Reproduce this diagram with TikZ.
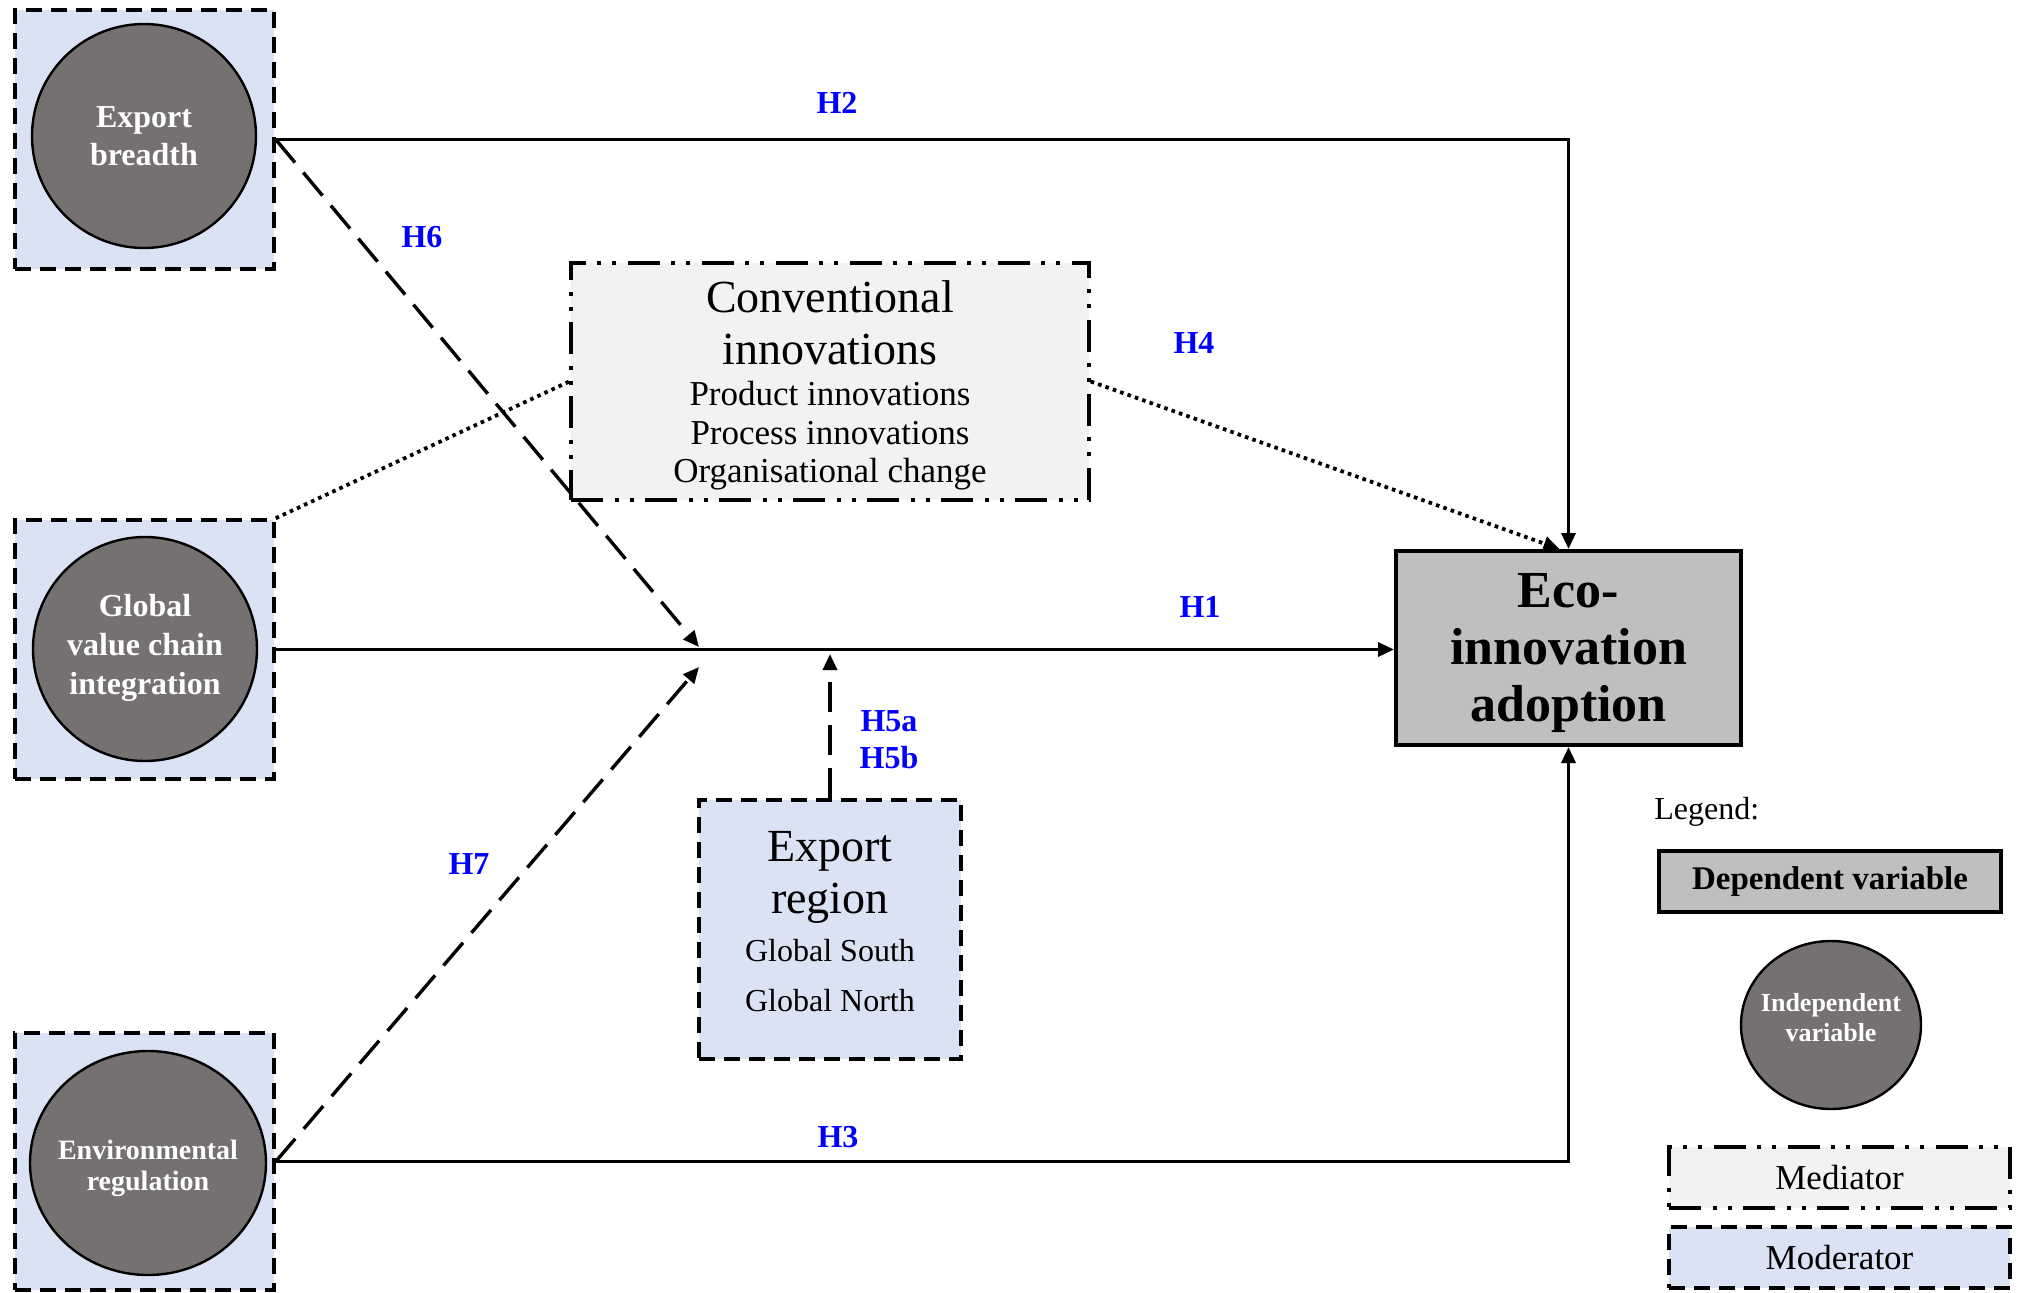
\documentclass[tikz,border=0pt]{standalone}
\usepackage{fontspec}
\setmainfont{Liberation Serif}
\usetikzlibrary{arrows.meta,shapes.geometric}
\definecolor{modfill}{HTML}{DAE3F3}
\definecolor{circfill}{HTML}{767171}
\definecolor{convfill}{HTML}{F2F2F2}
\definecolor{ecofill}{HTML}{BFBFBF}
\definecolor{hblue}{HTML}{0000FF}
\begin{document}
\begin{tikzpicture}[x=0.5pt,y=-0.5pt,
  modbox/.style={draw,fill=modfill,line width=1.75pt,dash pattern=on 8pt off 4.5pt,inner sep=0pt},
  medbox/.style={draw,fill=convfill,line width=1.75pt,dash pattern=on 16pt off 6pt on 2pt off 5.5pt on 2pt off 5.5pt,inner sep=0pt},
  depbox/.style={draw,fill=ecofill,line width=2pt,inner sep=0pt},
  ivar/.style={ellipse,draw,fill=circfill,line width=1.2pt,inner sep=0pt},
  wtext/.style={text=white,align=center,inner sep=0pt},
  btext/.style={text=black,align=center,inner sep=0pt},
  hyp/.style={text=hblue,font=\bfseries\fontsize{16}{18.5}\selectfont,align=center,inner sep=0pt},
  conn/.style={line width=1.7pt},
  tip/.style={-{Triangle[length=8pt,width=7pt]}},
  dashedconn/.style={line width=1.7pt,dash pattern=on 15pt off 6.5pt},
  dotconn/.style={line width=1.9pt,dash pattern=on 1.8pt off 2.1pt}
]
\useasboundingbox (0,0) rectangle (2020,1292);

% moderator boxes with independent variables
\node[modbox,minimum width=129.5pt,minimum height=129.5pt] (mb1) at (144.5,139.5) {};
\node[ivar,minimum width=112pt,minimum height=112pt] (c1) at (144,136) {};
\node[wtext,font=\bfseries\fontsize{16}{18.75}\selectfont] (t1) at (144,136) {Export\\breadth};

\node[modbox,minimum width=129.5pt,minimum height=129.5pt] (mb2) at (144.5,649.5) {};
\node[ivar,minimum width=112pt,minimum height=112pt] (c2) at (145,649) {};
\node[wtext,font=\bfseries\fontsize{16}{19.3}\selectfont] (t2) at (145,648) {Global\\value chain\\integration};

\node[modbox,minimum width=129.5pt,minimum height=128.5pt] (mb3) at (144.5,1161.5) {};
\node[ivar,minimum width=118pt,minimum height=112pt] (c3) at (148,1163) {};
\node[wtext,font=\bfseries\fontsize{14}{15.5}\selectfont] (t3) at (148,1168) {Environmental\\regulation};

% mediator
\node[medbox,minimum width=259pt,minimum height=118.5pt] (conv) at (830,381.5) {};
\node[btext,font=\fontsize{23}{25.75}\selectfont] (convt) at (830,323) {Conventional\\innovations};
\node[btext,font=\fontsize{17.5}{19.25}\selectfont] (convs) at (830,436) {Product innovations\\Process innovations\\Organisational change};

% dependent
\node[depbox,minimum width=172.5pt,minimum height=97pt] (eco) at (1568.5,648) {};
\node[btext,font=\bfseries\fontsize{26}{28.5}\selectfont] (ecot) at (1568.5,653) {Eco-\\innovation\\adoption};

% export region moderator
\node[modbox,minimum width=131pt,minimum height=129.5pt] (reg) at (830,929.5) {};
\node[btext,font=\fontsize{23}{26}\selectfont] (regt) at (830,877) {Export\\region};
\node[btext,font=\fontsize{16}{25}\selectfont] (regs) at (830,976) {Global South\\Global North};

% junction points on H1
\coordinate (m6) at (699,647);
\coordinate (m7) at (699,667);
\coordinate (m5) at (830,654);
\coordinate (h4end) at ([xshift=-4.5pt]eco.north);

% connectors
\draw[conn,tip] (mb1.east) -| (eco.north);
\draw[conn,tip] (mb2.east) -- (mb2.east -| eco.west);
\draw[conn,tip] (mb3.east) -| (eco.south);
\draw[dotconn] (mb2.north east) -- (conv.west);
\draw[dotconn,tip] (conv.east) -- (h4end);
\draw[dashedconn,tip] (mb1.east) -- (m6);
\draw[dashedconn,tip] (mb3.east) -- (m7);
\draw[dashedconn,tip] (reg.north) -- (m5);

% hypothesis labels
\node[hyp] (lh2) at (837,103) {H2};
\node[hyp] (lh6) at (422,237) {H6};
\node[hyp] (lh4) at (1194,343) {H4};
\node[hyp] (lh1) at (1200,607) {H1};
\node[hyp] (lh7) at (469,864) {H7};
\node[hyp] (lh5) at (889,740) {H5a\\H5b};
\node[hyp] (lh3) at (838,1137) {H3};

% legend
\node[anchor=west,inner sep=0pt,font=\fontsize{16}{18}\selectfont] (leg) at (1654,812) {Legend:};
\node[depbox,minimum width=171pt,minimum height=30.5pt,font=\bfseries\fontsize{16.5}{18}\selectfont] (legdep) at (1830,881.5) {Dependent variable};
\node[ivar,minimum width=90pt,minimum height=84pt] (legind) at (1831,1025) {};
\node[wtext,font=\bfseries\fontsize{13}{15}\selectfont] (legindt) at (1831,1018) {Independent\\variable};
\node[medbox,minimum width=170.5pt,minimum height=30.5pt,font=\fontsize{17.5}{19}\selectfont] (legmed) at (1839.5,1177.5) {Mediator};
\node[modbox,minimum width=170.5pt,minimum height=30.5pt,font=\fontsize{17.5}{19}\selectfont] (legmod) at (1839.5,1257.5) {Moderator};
\end{tikzpicture}
\end{document}
